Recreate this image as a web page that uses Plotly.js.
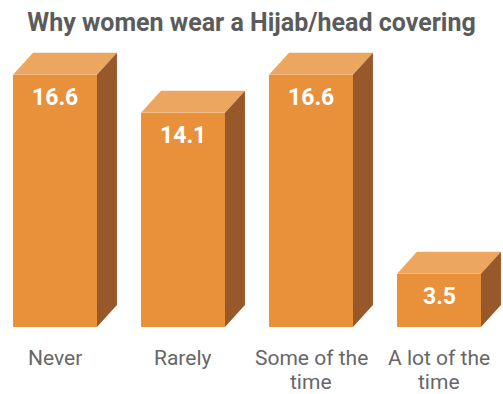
<!DOCTYPE html>
<html>
<head>
<meta charset="utf-8">
<script src="https://cdn.plot.ly/plotly-3.0.1.min.js"></script>
<style>html,body{margin:0;padding:0;background:#fff;}#chart{width:503px;height:394px;}</style>
</head>
<body>
<div id="chart"></div>
<script>
const categories = ["Never", "Rarely", "Some of the<br>time", "A lot of the<br>time"];
const values = [16.6, 14.1, 16.6, 3.5];
const valueLabels = ["16.6", "14.1", "16.6", "3.5"];

const FRONT = "#E8903A", TOP = "#ECA660", SIDE = "#98592A";
const W = 0.656, DX = 0.156, DY = 1.45;
const xs = categories.map((_, i) => i);

const traces = [];
traces.push({
  type: "bar", x: xs, y: values, width: W,
  marker: {color: FRONT, line: {width: 0}},
  hoverinfo: "skip", showlegend: false
});
xs.forEach((x, i) => {
  const v = values[i], l = x - W / 2, r = x + W / 2;
  traces.push({
    type: "scatter", mode: "lines", fill: "toself", fillcolor: TOP,
    line: {width: 0, color: TOP},
    x: [l, l + DX, r + DX, r, l], y: [v, v + DY, v + DY, v, v],
    hoverinfo: "skip", showlegend: false
  });
  traces.push({
    type: "scatter", mode: "lines", fill: "toself", fillcolor: SIDE,
    line: {width: 0, color: SIDE},
    x: [r, r + DX, r + DX, r, r], y: [0, DY, v + DY, v, 0],
    hoverinfo: "skip", showlegend: false
  });
});

const annotations = xs.map((x, i) => ({
  x: x, y: values[i], xref: "x", yref: "y", text: valueLabels[i],
  showarrow: false, yanchor: "top", yshift: -7,
  font: {family: "Roboto", size: 23, color: "#ffffff", weight: "bold"}
}));

// category labels, one annotation per line
xs.forEach((x, i) => {
  categories[i].split("<br>").forEach((line, j) => {
    annotations.push({
      x: x, y: 0, xref: "x", yref: "y", text: line,
      showarrow: false, yanchor: "middle", yshift: -31 - 24 * j, borderpad: 0,
      font: {family: "Roboto", size: 21, color: "#676767"}
    });
  });
});

const layout = {
  width: 503, height: 394,
  margin: {l: 0, r: 0, t: 40, b: 67},
  paper_bgcolor: "#ffffff", plot_bgcolor: "#ffffff",
  title: {
    text: "<b>Why women wear a Hijab/head covering</b>",
    font: {family: "Roboto", size: 25, color: "#5b5b5b"},
    x: 0.5, xanchor: "center", y: 1 - 22 / 394, yanchor: "middle"
  },
  xaxis: {
    range: [-55 / 128, -55 / 128 + 503 / 128],
    showticklabels: false,
    showgrid: false, zeroline: false, showline: false, ticks: ""
  },
  yaxis: {
    range: [0, 287 / 15.2], visible: false, showgrid: false, zeroline: false
  },
  annotations: annotations,
  bargap: 0
};

Plotly.newPlot("chart", traces, layout, {displayModeBar: false, staticPlot: true});
</script>
</body>
</html>
